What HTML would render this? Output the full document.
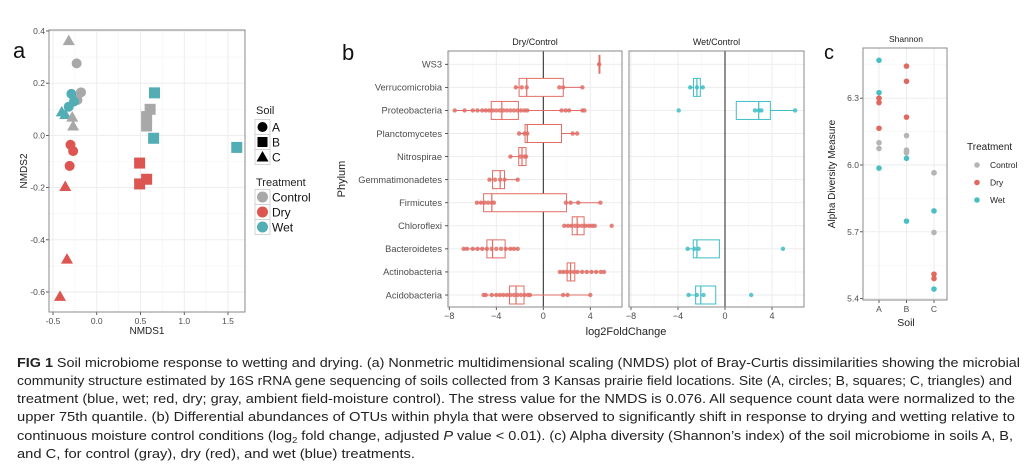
<!DOCTYPE html>
<html><head><meta charset="utf-8"><style>
html,body{margin:0;padding:0;background:#fff;}
svg{display:block;font-family:"Liberation Sans",Arial,sans-serif;}
</style></head><body>
<svg id="fig" width="1036" height="471" viewBox="0 0 1036 471" xmlns="http://www.w3.org/2000/svg">
<g id="pa"></g>
<g id="pb"></g>
<g id="pc"></g>
<g id="cap" font-size="12.5" fill="#222">
<text x="17" y="367" textLength="1003" lengthAdjust="spacingAndGlyphs"><tspan font-weight="bold">FIG 1</tspan>  Soil microbiome response to wetting and drying. (a) Nonmetric multidimensional scaling (NMDS) plot of Bray-Curtis dissimilarities showing the microbial</text>
<text x="17" y="385" textLength="995" lengthAdjust="spacingAndGlyphs">community structure estimated by 16S rRNA gene sequencing of soils collected from 3 Kansas prairie field locations. Site (A, circles; B, squares; C, triangles) and</text>
<text x="17" y="403" textLength="998" lengthAdjust="spacingAndGlyphs">treatment (blue, wet; red, dry; gray, ambient field-moisture control). The stress value for the NMDS is 0.076. All sequence count data were normalized to the</text>
<text x="17" y="421" textLength="998" lengthAdjust="spacingAndGlyphs">upper 75th quantile. (b) Differential abundances of OTUs within phyla that were observed to significantly shift in response to drying and wetting relative to</text>
<text x="17" y="440" textLength="996" lengthAdjust="spacingAndGlyphs">continuous moisture control conditions (log<tspan font-size="8" dy="3">2</tspan><tspan dy="-3"> fold change, adjusted </tspan><tspan font-style="italic">P</tspan> value &lt; 0.01). (c) Alpha diversity (Shannon’s index) of the soil microbiome in soils A, B,</text>
<text x="17" y="458" textLength="398" lengthAdjust="spacingAndGlyphs">and C, for control (gray), dry (red), and wet (blue) treatments.</text>
</g>
</svg>
<script>
// ---------- Panel a data ----------
const nmdsX = [-0.32,-0.23,-0.18,-0.22,-0.29,-0.26,-0.32,-0.40,-0.36,-0.28,-0.27,-0.30,-0.27,-0.31,-0.36,-0.34,-0.42,0.66,0.61,0.57,0.57,0.65,1.60,0.49,0.57,0.49];
const nmdsY = [0.363,0.276,0.165,0.136,0.159,0.13,0.11,0.09,0.08,0.07,0.036,-0.036,-0.06,-0.117,-0.196,-0.474,-0.617,0.163,0.1,0.072,0.036,-0.011,-0.046,-0.106,-0.168,-0.186];
const nmdsSoil = ["C","A","A","A","A","A","A","C","C","C","C","A","A","A","C","C","C","B","B","B","B","B","B","B","B","B"];
const nmdsTrt = ["Control","Control","Control","Control","Wet","Wet","Wet","Wet","Wet","Control","Control","Dry","Dry","Dry","Dry","Dry","Dry","Wet","Control","Control","Control","Wet","Wet","Dry","Dry","Dry"];
const aXTicks = [-0.5,0,0.5,1,1.5];
const aXTickLabels = ["-0.5","0.0","0.5","1.0","1.5"];
const aYTicks = [-0.6,-0.4,-0.2,0,0.2,0.4];
const aYTickLabels = ["-0.6","-0.4","-0.2","0.0","0.2","0.4"];
// ---------- Panel b data ----------
const phyla = ["WS3","Verrucomicrobia","Proteobacteria","Planctomycetes","Nitrospirae","Gemmatimonadetes","Firmicutes","Chloroflexi","Bacteroidetes","Actinobacteria","Acidobacteria"];
const dryQ1 = [4.75,-2.06,-4.43,-1.55,-2.09,-4.32,-5.08,2.46,-4.8,2.03,-2.88];
const dryMed = [4.75,-1.41,-3.53,-1.36,-1.81,-3.67,-4.38,2.88,-4.32,2.32,-2.32];
const dryQ3 = [4.75,1.7,-2.12,1.55,-1.47,-3.3,1.98,3.47,-3.25,2.68,-1.64];
const dryWLo = [4.6,-2.34,-7.54,-2.06,-2.8,-4.58,-5.65,1.78,-6.78,1.41,-5.08];
const dryWHi = [4.9,3.33,3.5,2.88,-1.47,-2.18,4.86,4.38,-2.18,5.17,4.0];
const dryPts = [
 [4.75],
 [-2.34,-1.83,-1.41,1.36,1.69,3.33],
 [-7.54,-6.7,-6.0,-5.6,-5.2,-4.9,-4.6,-4.3,-4.0,-3.7,-3.4,-3.1,-2.8,-2.5,-2.2,-1.9,-1.6,-1.36,1.55,1.9,2.2,3.33,3.5],
 [-2.06,-1.6,-1.36,2.5,2.88],
 [-2.8,-1.95,-1.6,-1.47],
 [-4.58,-4.1,-3.67,-3.3,-2.18],
 [-5.65,-5.3,-5.0,-4.7,-4.4,-4.2,1.92,2.32,2.97,4.86],
 [1.78,2.1,2.4,2.7,3.0,3.3,3.6,3.9,4.15,4.38,5.82],
 [-6.78,-6.5,-6.0,-5.6,-5.2,-4.8,-4.4,-4.0,-3.6,-3.2,-2.8,-2.5,-2.18],
 [1.41,1.7,2.0,2.3,2.6,2.9,3.3,3.7,4.1,4.5,4.9,5.17],
 [-5.08,-4.9,-4.38,-4.0,-3.7,-3.4,-3.1,-2.8,-2.5,-2.2,-1.9,-1.6,-1.3,-1.13,1.69,2.06,4.0]
];
const wetRows = [1,2,8,10];
const wetQ1 = [-2.68,0.96,-2.7,-2.5];
const wetMed = [-2.39,2.87,-2.39,-2.06];
const wetQ3 = [-2.1,3.86,-0.48,-0.79];
const wetWLo = [-2.96,0.96,-3.18,-3.1];
const wetWHi = [-1.89,5.97,-0.48,-0.79];
const wetPts = [[-2.96,-2.39,-1.89],[-3.94,2.55,2.87,3.1,5.97],[-3.18,-2.6,-2.25,4.93],[-3.1,-2.4,-1.83,2.23]];
const bTicks = [-8,-4,0,4];
const bTickLabels = ["−8","−4","0","4"];
// ---------- Panel c data ----------
const shanSoil = ["A","A","A","A","A","A","A","A","B","B","B","B","B","B","B","B","B","C","C","C","C","C","C","C"];
const shanTrt = ["Wet","Wet","Dry","Dry","Dry","Control","Control","Wet","Dry","Dry","Dry","Control","Control","Control","Wet","Wet","Control","Control","Wet","Control","Dry","Dry","Wet","Control"];
const shanVal = [6.47,6.325,6.30,6.28,6.165,6.10,6.074,5.986,6.444,6.376,6.215,6.132,6.067,6.055,6.03,5.748,6.06,5.965,5.794,5.697,5.51,5.49,5.443,5.965];
const cTicks = [5.4,5.7,6.0,6.3];
const cTickLabels = ["5.4","5.7","6.0","6.3"];
const soils = ["A","B","C"];

const NS="http://www.w3.org/2000/svg";
function mk(parent,tag,attrs,text){const e=document.createElementNS(NS,tag);for(const k in attrs)e.setAttribute(k,attrs[k]);if(text!==undefined)e.textContent=text;parent.appendChild(e);return e;}
const colA={Control:"#a8a8a8",Dry:"#dc5550",Wet:"#52adb4"};
const colB={Dry:"#e26d66",Wet:"#3fbdc4"};
const colC={Control:"#b5b5b5",Dry:"#e0685f",Wet:"#4bbec4"};
const GRID="#ebebeb", TXT="#4d4d4d";

// ===== Panel a =====
(function(){
 const g=document.getElementById('pa');
 const L=49,R=245,T=30,B=312;
 const sx=v=>53+(v+0.5)*87.5, sy=v=>31+(0.4-v)*261;
 mk(g,'rect',{x:L,y:T,width:R-L,height:B-T,fill:'#fff'});
 aXTicks.forEach((v,i)=>{ if(i<aXTicks.length-1)mk(g,'line',{x1:sx(v+0.25),x2:sx(v+0.25),y1:T,y2:B,stroke:'#f4f4f4','stroke-width':0.6}); });
 aYTicks.forEach((v,i)=>{ if(i<aYTicks.length-1)mk(g,'line',{y1:sy(v+0.1),y2:sy(v+0.1),x1:L,x2:R,stroke:'#f4f4f4','stroke-width':0.6}); });
 aXTicks.forEach((v,i)=>{
  const gl=mk(g,'line',{x1:sx(v),x2:sx(v),y1:T,y2:B,stroke:GRID,'stroke-width':0.9});
  
  mk(g,'line',{x1:sx(v),x2:sx(v),y1:B,y2:B+3,stroke:'#333','stroke-width':0.8});
  const t=mk(g,'text',{x:sx(v),y:B+12,'font-size':8.5,'text-anchor':'middle',fill:TXT},aXTickLabels[i]);
  
 });
 aYTicks.forEach((v,i)=>{
  mk(g,'line',{y1:sy(v),y2:sy(v),x1:L,x2:R,stroke:GRID,'stroke-width':0.9});
  mk(g,'line',{y1:sy(v),y2:sy(v),x1:L-3,x2:L,stroke:'#333','stroke-width':0.8});
  const t=mk(g,'text',{x:L-4,y:sy(v)+3,'font-size':8.5,'text-anchor':'end',fill:TXT},aYTickLabels[i]);
  
 });
 mk(g,'rect',{x:L,y:T,width:R-L,height:B-T,fill:'none',stroke:'#888','stroke-width':1});
 function shape(par,s,x,y,fill,r){
  if(s==='A')return mk(par,'circle',{cx:x,cy:y,r:r,fill:fill});
  if(s==='B')return mk(par,'rect',{x:x-r,y:y-r,width:2*r,height:2*r,fill:fill});
  return mk(par,'polygon',{points:`${x},${y-r*1.2} ${x-r*1.2},${y+r*0.9} ${x+r*1.2},${y+r*0.9}`,fill:fill});
 }
 nmdsX.forEach((v,i)=>{
  const p=shape(g,nmdsSoil[i],sx(v),sy(nmdsY[i]),colA[nmdsTrt[i]],nmdsSoil[i]==='B'?5.5:5);
  
  
 });
 const t1=mk(g,'text',{x:13,y:58,'font-size':22,fill:'#111'},'a');
 
 const yt=mk(g,'text',{x:0,y:0,'font-size':10,'text-anchor':'middle',fill:'#222',transform:'translate(27,171) rotate(-90)'},'NMDS2');
 
 const xt=mk(g,'text',{x:147,y:334,'font-size':10,'text-anchor':'middle',fill:'#222'},'NMDS1');
 
 // legend
 const lg=mk(g,'g',{});
 
 mk(lg,'text',{x:256,y:114,'font-size':11,fill:'#222'},'Soil');
 soils.forEach((s,i)=>{
  const y=127+i*15;
  mk(lg,'rect',{x:255,y:y-7.5,width:15,height:15,fill:'#fff',stroke:'#ccc','stroke-width':0.8});
  shape(lg,s,262.5,y,'#000',s==='B'?5:5);
  const t=mk(lg,'text',{x:272,y:y+4.5,'font-size':12,fill:'#111'},s);
  
 });
 mk(lg,'text',{x:256,y:186,'font-size':11,fill:'#222'},'Treatment');
 ["Control","Dry","Wet"].forEach((s,i)=>{
  const y=197+i*15;
  mk(lg,'rect',{x:255,y:y-7.5,width:15,height:15,fill:'#fff',stroke:'#ccc','stroke-width':0.8});
  mk(lg,'circle',{cx:262.5,cy:y,r:5.5,fill:colA[s]});
  const t=mk(lg,'text',{x:272,y:y+4.5,'font-size':12,fill:'#111'},s);
  
 });
})();

// ===== Panel b =====
(function(){
 const g=document.getElementById('pb');
 const T=51,B=307;
 const rowY=i=>64.3+i*23.07;
 const panels=[{L:448,R:622,x0:543.3,name:'Dry/Control'},{L:629,R:804,x0:725,name:'Wet/Control'}];
 const ppu=11.75;
 panels.forEach((p,pi)=>{
  const sx=v=>p.x0+v*ppu;
  mk(g,'rect',{x:p.L,y:T,width:p.R-p.L,height:B-T,fill:'#fff'});
  [-6,-2,2,6].forEach(v=>{ if(sx(v)<p.R) mk(g,'line',{x1:sx(v),x2:sx(v),y1:T,y2:B,stroke:'#f4f4f4','stroke-width':0.6}); });
  bTicks.forEach((v,i)=>{
   mk(g,'line',{x1:sx(v),x2:sx(v),y1:T,y2:B,stroke:GRID,'stroke-width':0.9});
   mk(g,'line',{x1:sx(v),x2:sx(v),y1:B,y2:B+3,stroke:'#333','stroke-width':0.8});
   const t=mk(g,'text',{x:sx(v),y:B+12,'font-size':9,'text-anchor':'middle',fill:TXT},bTickLabels[i]);
   
  });
  phyla.forEach((ph,i)=>mk(g,'line',{x1:p.L,x2:p.R,y1:rowY(i),y2:rowY(i),stroke:GRID,'stroke-width':0.9}));
  mk(g,'line',{x1:sx(0),x2:sx(0),y1:T,y2:B,stroke:'#222','stroke-width':1});
  mk(g,'rect',{x:p.L,y:T,width:p.R-p.L,height:B-T,fill:'none',stroke:'#888','stroke-width':1});
  const st=mk(g,'text',{x:(p.L+p.R)/2,y:45,'font-size':9,'text-anchor':'middle',fill:'#222'},p.name);
  
 });
 function drawBox(sx,y,q1,med,q3,wlo,whi,pts,col){
  const bx=mk(g,'g',{});
  
  
  mk(bx,'line',{x1:sx(wlo),x2:sx(q1),y1:y,y2:y,stroke:col,'stroke-width':1});
  mk(bx,'line',{x1:sx(q3),x2:sx(whi),y1:y,y2:y,stroke:col,'stroke-width':1});
  mk(bx,'rect',{x:sx(q1),y:y-9,width:Math.max(sx(q3)-sx(q1),0.8),height:18,fill:'#fff',stroke:col,'stroke-width':1});
  mk(bx,'line',{x1:sx(med),x2:sx(med),y1:y-9,y2:y+9,stroke:col,'stroke-width':1.2});
  pts.forEach(v=>{
   const c=mk(bx,'circle',{cx:sx(v),cy:y,r:2.2,fill:col,'fill-opacity':0.85});
   
   
  });
 }
 const sxD=v=>panels[0].x0+v*ppu, sxW=v=>panels[1].x0+v*ppu;
 phyla.forEach((ph,i)=>drawBox(sxD,rowY(i),dryQ1[i],dryMed[i],dryQ3[i],dryWLo[i],dryWHi[i],dryPts[i],colB.Dry));
 wetRows.forEach((r,i)=>drawBox(sxW,rowY(r),wetQ1[i],wetMed[i],wetQ3[i],wetWLo[i],wetWHi[i],wetPts[i],colB.Wet));
 phyla.forEach((ph,i)=>{
  mk(g,'line',{x1:445,x2:448,y1:rowY(i),y2:rowY(i),stroke:'#333','stroke-width':0.8});
  const t=mk(g,'text',{x:442,y:rowY(i)+3.3,'font-size':9.3,'text-anchor':'end',fill:TXT},ph);
  
 });
 const t1=mk(g,'text',{x:342,y:60,'font-size':22,fill:'#111'},'b');
 
 const yt=mk(g,'text',{x:0,y:0,'font-size':11,'text-anchor':'middle',fill:'#222',transform:'translate(345,179) rotate(-90)'},'Phylum');
 
 const xt=mk(g,'text',{x:626,y:335,'font-size':11,'text-anchor':'middle',fill:'#222'},'log2FoldChange');
 
})();

// ===== Panel c =====
(function(){
 const g=document.getElementById('pc');
 const L=863,R=947,T=48,B=300;
 const sy=v=>165-(v-6.0)*222.7;
 const sx=s=>879+soils.indexOf(s)*27.5;
 mk(g,'rect',{x:L,y:T,width:R-L,height:B-T,fill:'#fff'});
 [5.55,5.85,6.15,6.45].forEach(v=>mk(g,'line',{x1:L,x2:R,y1:sy(v),y2:sy(v),stroke:'#f4f4f4','stroke-width':0.6}));
 cTicks.forEach((v,i)=>{
  mk(g,'line',{x1:L,x2:R,y1:sy(v),y2:sy(v),stroke:GRID,'stroke-width':0.9});
  mk(g,'line',{x1:L-3,x2:L,y1:sy(v),y2:sy(v),stroke:'#333','stroke-width':0.8});
  const t=mk(g,'text',{x:L-4,y:sy(v)+3,'font-size':8.5,'text-anchor':'end',fill:TXT},cTickLabels[i]);
  
 });
 soils.forEach(s=>{
  mk(g,'line',{x1:sx(s),x2:sx(s),y1:T,y2:B,stroke:GRID,'stroke-width':0.9});
  mk(g,'line',{x1:sx(s),x2:sx(s),y1:B,y2:B+3,stroke:'#333','stroke-width':0.8});
  const t=mk(g,'text',{x:sx(s),y:B+12,'font-size':8.5,'text-anchor':'middle',fill:TXT},s);
  
 });
 mk(g,'rect',{x:L,y:T,width:R-L,height:B-T,fill:'none',stroke:'#888','stroke-width':1});
 shanVal.forEach((v,i)=>{
  const c=mk(g,'circle',{cx:sx(shanSoil[i]),cy:sy(v),r:2.8,fill:colC[shanTrt[i]]});
  
  
 });
 const st=mk(g,'text',{x:906,y:42,'font-size':8.5,'text-anchor':'middle',fill:'#222'},'Shannon');
 
 const t1=mk(g,'text',{x:824,y:59,'font-size':20,fill:'#111'},'c');
 
 const yt=mk(g,'text',{x:0,y:0,'font-size':10,'text-anchor':'middle',fill:'#222',transform:'translate(835,174) rotate(-90)'},'Alpha Diversity Measure');
 
 const xt=mk(g,'text',{x:906,y:326,'font-size':10.5,'text-anchor':'middle',fill:'#222'},'Soil');
 
 const lg=mk(g,'g',{});
 
 mk(lg,'text',{x:967,y:150,'font-size':10,fill:'#222'},'Treatment');
 ["Control","Dry","Wet"].forEach((s,i)=>{
  const y=165+i*17.5;
  mk(lg,'circle',{cx:977,cy:y,r:2.8,fill:colC[s]});
  const t=mk(lg,'text',{x:990,y:y+3,'font-size':8.5,fill:'#222'},s);
  
 });
})();
</script>
</body></html>
